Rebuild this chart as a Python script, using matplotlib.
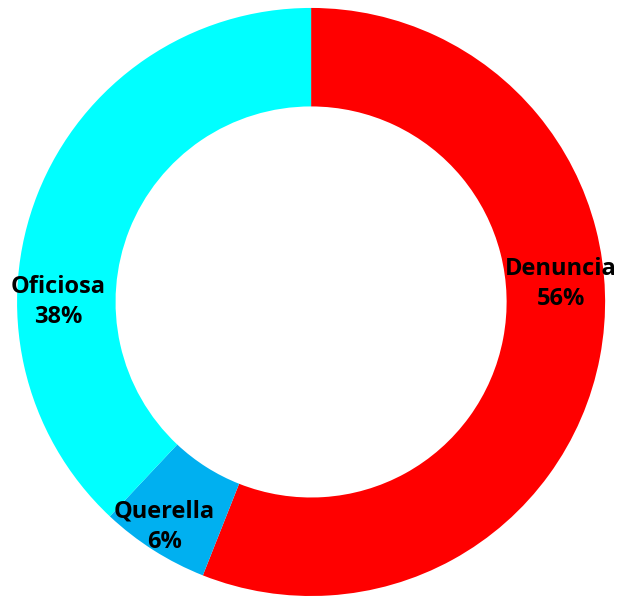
import matplotlib.pyplot as plt

labels = ["Denuncia", "Querella", "Oficiosa"]
shares = [56, 6, 38]
colors = ["#FF0000", "#00B0F0", "#00FFFF"]
# label anchor points (in radius units)
label_pos = [(0.85, 0.06), (-0.50, -0.765), (-0.86, 0.0)]

fig = plt.figure(figsize=(6.21, 5.96), dpi=100)
ax = fig.add_axes([0, 0, 1, 1])

ax.pie(shares, colors=colors, startangle=90, counterclock=False,
       radius=1.0, wedgeprops=dict(width=0.335, edgecolor="none"))

for lab, val, (x, y) in zip(labels, shares, label_pos):
    ax.text(x, y, f"{lab}\n{val}%", ha="center", va="center",
            fontsize=17, fontweight="bold", family="Open Sans",
            linespacing=1.35, color="black")

ax.set_xlim(-1.058, 1.054)
ax.set_ylim(-1.0, 1.027)
ax.set_aspect("equal")
ax.axis("off")

plt.savefig("out.png", dpi=100)
